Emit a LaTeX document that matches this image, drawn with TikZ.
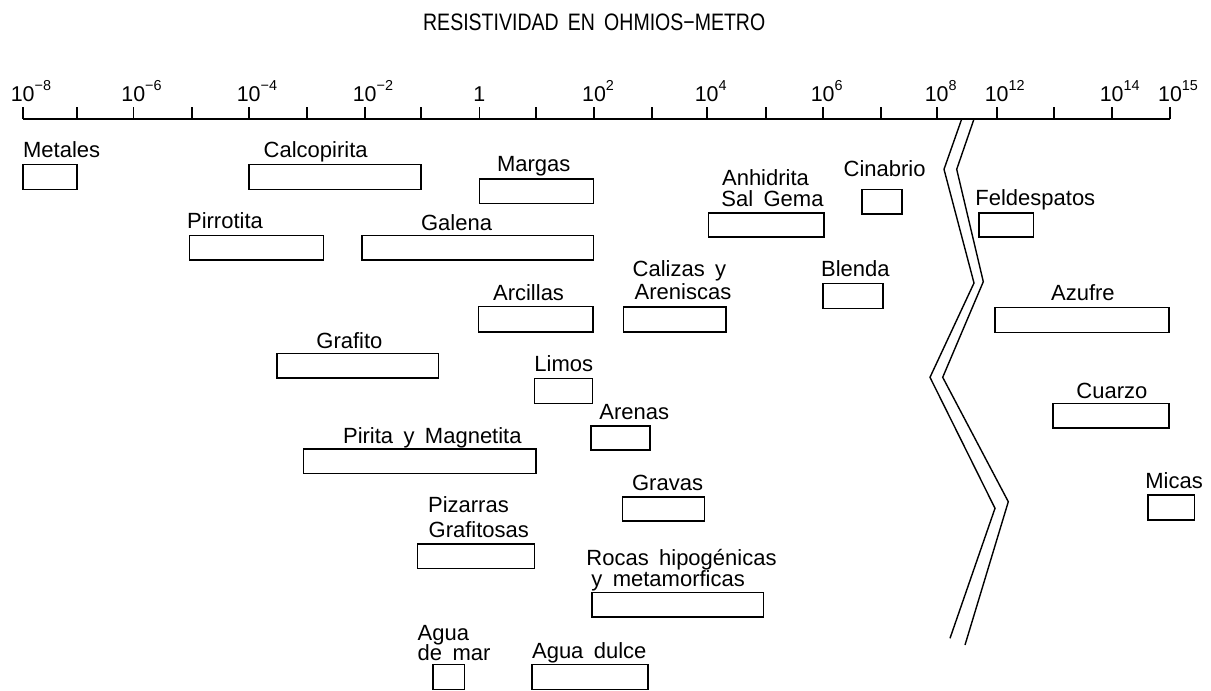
\documentclass[tikz,border=0pt]{standalone}
\usepackage{fontspec}
\setmainfont{Liberation Sans}[WordSpace=1.7]
\usetikzlibrary{fit}
\newcommand\pwr[1]{\rlap{\raisebox{5.8pt}{\fontsize{7.2pt}{8pt}\selectfont #1}}}
\begin{document}
\begin{tikzpicture}[x=0.5pt,y=-0.5pt,
  lab/.style={anchor=base west,inner sep=0pt,font=\fontsize{11pt}{12pt}\selectfont},
  tl/.style={anchor=base,inner sep=0pt,font=\fontsize{10.7pt}{12pt}\selectfont},
  rbox/.style={draw,line width=0.8pt,inner sep=0pt},
  axisline/.style={line width=0.8pt},
  brk/.style={line width=0.7pt,line join=miter}]
\useasboundingbox (0,0) rectangle (1211,691);

% title
\node[anchor=base,inner sep=0pt] (title) at (594.2,30.7)
  {\scalebox{0.82}[1]{\fontsize{11.9pt}{13pt}\selectfont RESISTIVIDAD EN OHMIOS−METRO}};

% axis
\coordinate (a0) at (22.7,119);
\coordinate (a1) at (1170,119);
\draw[axisline] (a0) -- (a1);
\foreach \x in {22.7,77,133.3,191.7,248.7,307,364.7,421,479.3,536,594,651.7,706.7,765.7,822.7,881,936.7,996.7,1054,1111.7,1170}
  \draw[axisline] (\x,119) -- (\x,107);

% tick labels
\node[tl] (l-8) at (22.7,101.7) {10\pwr{−8}};
\node[tl] (l-6) at (133.3,101.7) {10\pwr{−6}};
\node[tl] (l-4) at (248.7,101.7) {10\pwr{−4}};
\node[tl] (l-2) at (364.7,101.7) {10\pwr{−2}};
\node[tl] (l0) at (479.3,101.7) {1};
\node[tl] (l2) at (594,101.7) {10\pwr{2}};
\node[tl] (l4) at (706.7,101.7) {10\pwr{4}};
\node[tl] (l6) at (822.7,101.7) {10\pwr{6}};
\node[tl] (l8) at (936.7,101.7) {10\pwr{8}};
\node[tl] (l12) at (996.7,101.7) {10\pwr{12}};
\node[tl] (l14) at (1111.7,101.7) {10\pwr{14}};
\node[tl] (l15) at (1170,101.7) {10\pwr{15}};

% break lines
\draw[brk] (961.7,119) -- (944,169.3) -- (974,283) -- (930,377.3) -- (995,508.3) -- (950,638.3);
\draw[brk] (974,119) -- (956.7,169.3) -- (983.3,281.7) -- (942.7,377.3) -- (1008.3,501.7) -- (965,645);

% labels and boxes
\node[lab] (tMetales) at (22.7,157.3) {Metales};
\node[rbox,fit={(22.7,164.3) (76.7,189.3)}] (bMetales) {};

\node[lab] (tCalco) at (263.3,157.3) {Calcopirita};
\node[rbox,fit={(248.7,164.3) (421,189.3)}] (bCalco) {};

\node[lab] (tMargas) at (496.7,171.7) {Margas};
\node[rbox,fit={(479.3,179) (593.3,203.3)}] (bMargas) {};

\node[lab] (tAnh1) at (721.7,185) {Anhidrita};
\node[lab] (tAnh2) at (721,206.7) {Sal Gema};
\node[rbox,fit={(708.3,212.7) (824,237)}] (bAnh) {};

\node[lab] (tCinabrio) at (843.3,176.7) {Cinabrio};
\node[rbox,fit={(861.7,189.3) (901.7,214)}] (bCinabrio) {};

\node[lab] (tFeld) at (975,205) {Feldespatos};
\node[rbox,fit={(979,212.7) (1033.3,236.7)}] (bFeld) {};

\node[lab] (tPirro) at (186.7,228.3) {Pirrotita};
\node[rbox,fit={(189.3,235.3) (323.3,260)}] (bPirro) {};

\node[lab] (tGalena) at (420.7,230) {Galena};
\node[rbox,fit={(362,235.3) (593.3,260)}] (bGalena) {};

\node[lab] (tCal1) at (632.3,276.7) {Calizas y};
\node[lab] (tCal2) at (634.3,299.3) {Areniscas};
\node[rbox,fit={(623.3,306.7) (725.7,331.7)}] (bCal) {};

\node[lab] (tBlenda) at (820.7,276.7) {Blenda};
\node[rbox,fit={(822.7,283.3) (882.7,308.3)}] (bBlenda) {};

\node[lab] (tArc) at (492.7,300) {Arcillas};
\node[rbox,fit={(478.3,306.5) (593,331.7)}] (bArc) {};

\node[lab] (tAzufre) at (1050.7,300.7) {Azufre};
\node[rbox,fit={(995,307.5) (1168.7,332.3)}] (bAzufre) {};

\node[lab] (tGrafito) at (316,348.3) {Grafito};
\node[rbox,fit={(276.7,353.3) (438.3,377.7)}] (bGrafito) {};

\node[lab] (tLimos) at (534,371.7) {Limos};
\node[rbox,fit={(534.3,378.3) (592.3,403.3)}] (bLimos) {};

\node[lab] (tCuarzo) at (1076,398.3) {Cuarzo};
\node[rbox,fit={(1052.7,403.3) (1168.7,427.7)}] (bCuarzo) {};

\node[lab] (tArenas) at (599,419.3) {Arenas};
\node[rbox,fit={(591,425.7) (650,450)}] (bArenas) {};

\node[lab] (tPirita) at (342.7,443.3) {Pirita y Magnetita};
\node[rbox,fit={(303.3,449) (536,473.3)}] (bPirita) {};

\node[lab] (tMicas) at (1145,488.3) {Micas};
\node[rbox,fit={(1147.7,495) (1194.3,520)}] (bMicas) {};

\node[lab] (tGravas) at (631.7,490.7) {Gravas};
\node[rbox,fit={(622.3,496.7) (704.3,521)}] (bGravas) {};

\node[lab] (tPiz1) at (427.7,512.3) {Pizarras};
\node[lab] (tPiz2) at (428.3,537.3) {Grafitosas};
\node[rbox,fit={(417.3,544) (534.3,568.3)}] (bPiz) {};

\node[lab] (tRoc1) at (586,565) {Rocas hipogénicas};
\node[lab] (tRoc2) at (591,586) {y metamorficas};
\node[rbox,fit={(591.7,592.3) (763.3,616.7)}] (bRoc) {};

\node[lab] (tMar1) at (417.3,640) {Agua};
\node[lab] (tMar2) at (417.3,660) {de mar};
\node[rbox,fit={(432.7,664.3) (464.3,689.3)}] (bMar) {};

\node[lab] (tDulce) at (531.7,658.3) {Agua dulce};
\node[rbox,fit={(531.7,664.3) (647.7,689.3)}] (bDulce) {};
\end{tikzpicture}
\end{document}
